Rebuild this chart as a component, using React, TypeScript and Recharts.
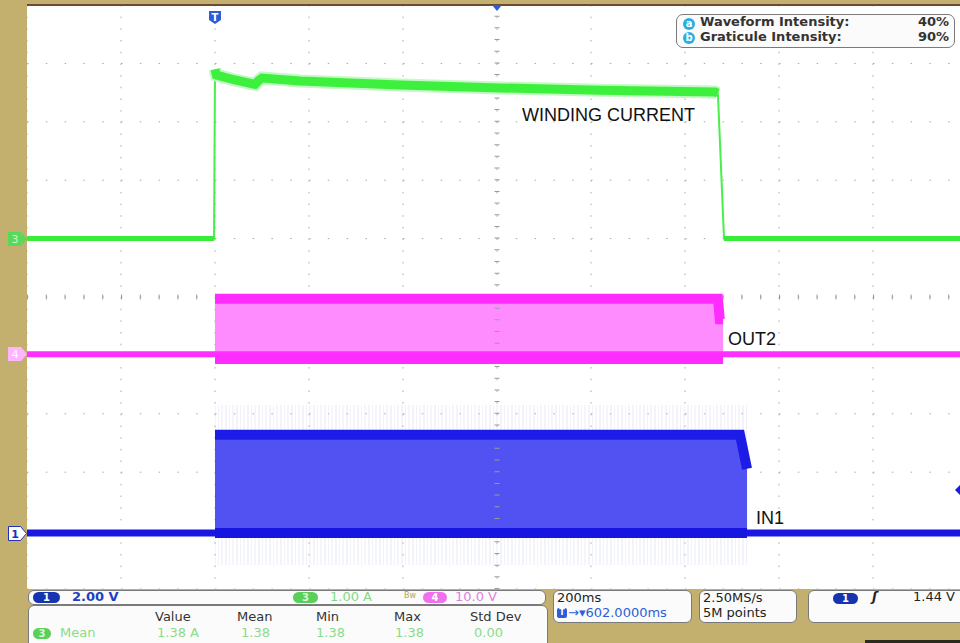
import { Area, CartesianGrid, ComposedChart, Line, ReferenceLine, XAxis, YAxis } from 'recharts'

// time in ms from the trigger point, 200ms/div, levels in graticule divisions from the bottom
const timeTicks = [-400, -200, 0, 200, 400, 600, 800, 1000, 1200, 1400, 1600]
const levelTicks = [0, 1, 2, 3, 4, 5, 6, 7, 8, 9, 10]
const fullSpan = [-400, 1600]

// ch3 - winding current
const ch3Idle = 6.0
const ch3Time = [-400, -2, 0, 3, 40, 85, 92, 100, 181, 394, 606, 819, 1064, 1070, 1083, 1600]
const ch3Level = [6.0, 6.0, 8.9, 8.8, 8.72, 8.64, 8.7, 8.75, 8.7, 8.63, 8.58, 8.54, 8.51, 8.49, 6.0, 6.0]

// ch4 - OUT2 switching burst
const ch4Idle = 4.02
const ch4Time = [0, 1070, 1074, 1081]
const ch4Top = [4.97, 4.97, 4.62, 4.62]
const ch4Bottom = [3.94, 3.94, 3.94, 3.94]

// ch1 - IN1 switching burst
const ch1Idle = 0.96
const ch1Time = [0, 1117, 1132]
const ch1Top = [2.64, 2.64, 2.06]
const ch1Bottom = [0.96, 0.96, 0.96]
const ch1NoiseTime = [0, 1132]
const ch1NoiseHigh = [3.15, 3.15]
const ch1NoiseLow = [0.41, 0.41]

const ch3Rows = ch3Time.map((t, i) => ({
  t,
  v: ch3Level[i],
  top: ch3Level[i] > ch3Idle ? ch3Level[i] : null,
  base: ch3Level[i] === ch3Idle ? ch3Level[i] : null,
}))
const ch4Rows = ch4Time.map((t, i) => ({ t, hi: ch4Top[i], lo: ch4Bottom[i] }))
const ch1Rows = ch1Time.map((t, i) => ({ t, hi: ch1Top[i], lo: ch1Bottom[i] }))
const ch1Noise = ch1NoiseTime.map((t, i) => ({ t, hi: ch1NoiseHigh[i], lo: ch1NoiseLow[i] }))
const idle = (level: number) => fullSpan.map(t => ({ t, v: level }))

const range = (d: { lo: number; hi: number }) => [d.lo, d.hi]

const tek = "'DejaVu Sans', sans-serif"
const label = { position: 'absolute' as const, font: "18px 'Liberation Sans', Arial, sans-serif", color: '#111' }
const box = { position: 'absolute' as const, background: '#fbfbfb', border: '1px solid #7a7a7a', borderRadius: 6, boxSizing: 'border-box' as const }
const txt = (left: number, top: number, color: string, extra: object = {}) => ({ position: 'absolute' as const, left, top, color, font: `13px ${tek}`, whiteSpace: 'nowrap' as const, ...extra })
const pill = (left: number, top: number, w: number, bg: string, color = '#fff') => ({ position: 'absolute' as const, left, top, width: w, height: 11, borderRadius: 6, background: bg, color, font: `bold 10px ${tek}`, lineHeight: '11px', textAlign: 'center' as const })

export default function App() {
  return (
    <div style={{ position: 'absolute', left: 0, top: 0, width: 960, height: 643, overflow: 'hidden', background: '#c4b06e' }}>
      <div style={{ position: 'absolute', left: 27, top: 5, width: 940, height: 584, background: '#fff' }}>
        <ComposedChart width={940} height={584} margin={{ top: 0, right: 0, bottom: 0, left: 0 }}>
          <defs>
            <pattern id="noise" width="11" height="40" patternUnits="userSpaceOnUse">
              <line x1="1" y1="0" x2="1" y2="40" stroke="#c6c6ee" strokeWidth="0.7" />
              <line x1="4.5" y1="0" x2="4.5" y2="40" stroke="#dcdcf4" strokeWidth="0.7" />
              <line x1="8" y1="0" x2="8" y2="40" stroke="#d0d0f0" strokeWidth="0.7" />
            </pattern>
          </defs>
          <XAxis type="number" dataKey="t" domain={[-400, 1600]} ticks={timeTicks} allowDataOverflow hide />
          <YAxis type="number" domain={[0, 10]} ticks={levelTicks} allowDataOverflow hide />
          <CartesianGrid vertical={false} stroke="#a8a8a8" strokeDasharray="1.5 17.3" />
          <CartesianGrid horizontal={false} stroke="#a8a8a8" strokeDasharray="1.5 10.18" />
          <ReferenceLine x={600} stroke="#9a9a9a" strokeWidth={5} strokeDasharray="1 10.68" />
          <ReferenceLine y={5} stroke="#9a9a9a" strokeWidth={5} strokeDasharray="1 17.8" />

          <Area data={ch1Noise} dataKey={range} type="linear" fill="url(#noise)" stroke="none" isAnimationActive={false} activeDot={false} />
          <Area data={ch1Rows} dataKey={range} type="linear" fill="#5252f2" fillOpacity={1} stroke="none" isAnimationActive={false} activeDot={false} />
          <Line data={idle(ch1Idle)} dataKey="v" stroke="#1818e2" strokeWidth={7} dot={false} activeDot={false} isAnimationActive={false} />
          <Line data={ch1Rows} dataKey="hi" type="linear" stroke="#1c1ce6" strokeWidth={10} dot={false} activeDot={false} isAnimationActive={false} />
          <Line data={ch1Rows} dataKey="lo" type="linear" stroke="#1616e0" strokeWidth={10} dot={false} activeDot={false} isAnimationActive={false} />

          <Area data={ch4Rows} dataKey={range} type="linear" fill="#ff8cff" fillOpacity={1} stroke="none" isAnimationActive={false} activeDot={false} />
          <Line data={idle(ch4Idle)} dataKey="v" stroke="#ff30ff" strokeWidth={6} dot={false} activeDot={false} isAnimationActive={false} />
          <Line data={ch4Rows} dataKey="hi" type="linear" stroke="#ff2cff" strokeWidth={10} dot={false} activeDot={false} isAnimationActive={false} />
          <Line data={ch4Rows} dataKey="lo" type="linear" stroke="#ff2cff" strokeWidth={10} dot={false} activeDot={false} isAnimationActive={false} />

          <Line data={ch3Rows} dataKey="v" type="linear" stroke="#4aee4a" strokeWidth={2} dot={false} activeDot={false} isAnimationActive={false} />
          <Line data={ch3Rows} dataKey="base" type="linear" stroke="#38ec38" strokeWidth={5} dot={false} activeDot={false} isAnimationActive={false} />
          <Line data={ch3Rows} dataKey="top" type="linear" stroke="#c4f8c4" strokeWidth={13} dot={false} activeDot={false} isAnimationActive={false} />
          <Line data={ch3Rows} dataKey="top" type="linear" stroke="#3ef03e" strokeWidth={9} dot={false} activeDot={false} isAnimationActive={false} />
        </ComposedChart>
      </div>

      <div style={{ position: 'absolute', left: 27, top: 4, width: 933, height: 2, background: '#6b4a36' }} />

      <svg width={960} height={643} style={{ position: 'absolute', left: 0, top: 0 }}>
        <path d="M209,11 h12 v9 l-6,4 l-6,-4 z" fill="#2a5fd8" />
        <text x={215} y={21} fill="#fff" fontSize={10} fontWeight="bold" textAnchor="middle" fontFamily="DejaVu Sans">T</text>
        <path d="M492,5 h10 l-5,6 z" fill="#2a5fd8" />
        <path d="M960,485 l-5,5 l5,5 z" fill="#1a1ae0" />
        <path d="M8,232 h13 l6,7 l-6,7 h-13 z" fill="#5ad85a" />
        <text x={15} y={243} fill="#c8f5c8" fontSize={11} textAnchor="middle" fontFamily="DejaVu Sans">3</text>
        <path d="M8,347 h13 l6,7 l-6,7 h-13 z" fill="#ffb4ff" />
        <text x={15} y={358} fill="#fff" fontSize={11} textAnchor="middle" fontFamily="DejaVu Sans">4</text>
        <path d="M8.5,526.5 h12 l6,7 l-6,7 h-12 z" fill="#fff" stroke="#2030b8" />
        <text x={15} y={538} fill="#2030b8" fontSize={11} fontWeight="bold" textAnchor="middle" fontFamily="DejaVu Sans">1</text>
      </svg>

      <div style={{ ...label, left: 522, top: 105 }}>WINDING CURRENT</div>
      <div style={{ ...label, left: 728, top: 329 }}>OUT2</div>
      <div style={{ ...label, left: 756, top: 508 }}>IN1</div>

      <div style={{ ...box, left: 676, top: 14, width: 279, height: 34, borderRadius: 7 }} />
      <div style={{ ...pill(683, 18, 12, '#2aaee0'), height: 12, borderRadius: 6, lineHeight: '12px' }}>a</div>
      <div style={{ ...pill(683, 32, 12, '#2aaee0'), height: 12, borderRadius: 6, lineHeight: '12px' }}>b</div>
      <div style={txt(700, 14, '#333', { fontWeight: 'bold' })}>Waveform Intensity:</div>
      <div style={txt(700, 29, '#333', { fontWeight: 'bold' })}>Graticule Intensity:</div>
      <div style={txt(918, 14, '#333', { fontWeight: 'bold' })}>40%</div>
      <div style={txt(918, 29, '#333', { fontWeight: 'bold' })}>90%</div>

      <div style={{ ...box, left: 28, top: 590, width: 518, height: 15 }} />
      <div style={pill(33, 592, 27, '#1633b0')}>1</div>
      <div style={txt(72, 589, '#2040c0', { fontWeight: 'bold' })}>2.00 V</div>
      <div style={pill(293, 592, 25, '#5ad05a', '#d8f8d8')}>3</div>
      <div style={txt(330, 589, '#84d884')}>1.00 A</div>
      <div style={txt(404, 591, '#b8a450', { fontSize: 8 })}>Bw</div>
      <div style={pill(423, 592, 24, '#f070f0')}>4</div>
      <div style={txt(455, 589, '#e080e0')}>10.0 V</div>

      <div style={{ ...box, left: 28, top: 605, width: 520, height: 50 }} />
      <div style={txt(155, 609, '#333')}>Value</div>
      <div style={txt(237, 609, '#333')}>Mean</div>
      <div style={txt(316, 609, '#333')}>Min</div>
      <div style={txt(394, 609, '#333')}>Max</div>
      <div style={txt(470, 609, '#333')}>Std Dev</div>
      <div style={pill(33, 628, 18, '#5ad05a', '#d8f8d8')}>3</div>
      <div style={txt(60, 625, '#8adc8a')}>Mean</div>
      <div style={txt(157, 625, '#8adc8a')}>1.38 A</div>
      <div style={txt(241, 625, '#8adc8a')}>1.38</div>
      <div style={txt(316, 625, '#8adc8a')}>1.38</div>
      <div style={txt(395, 625, '#8adc8a')}>1.38</div>
      <div style={txt(474, 625, '#8adc8a')}>0.00</div>

      <div style={{ ...box, left: 553, top: 590, width: 139, height: 33 }} />
      <div style={txt(557, 590, '#222')}>200ms</div>
      <div style={{ ...pill(557, 608, 10, '#2a5fd8'), borderRadius: 2, height: 10, lineHeight: '10px', fontSize: 8 }}>T</div>
      <div style={txt(568, 605, '#2a5fd8')}>→▾602.0000ms</div>

      <div style={{ ...box, left: 699, top: 590, width: 98, height: 33 }} />
      <div style={txt(703, 590, '#222')}>2.50MS/s</div>
      <div style={txt(703, 605, '#222')}>5M points</div>

      <div style={{ ...box, left: 808, top: 590, width: 160, height: 33 }} />
      <div style={pill(833, 593, 25, '#1633b0')}>1</div>
      <div style={txt(872, 589, '#222', { fontStyle: 'italic', fontWeight: 'bold' })}>ʃ</div>
      <div style={txt(913, 589, '#222')}>1.44 V</div>

      <div style={{ position: 'absolute', left: 865, top: 640, width: 95, height: 3, background: '#2a2a1e' }} />
    </div>
  )
}
